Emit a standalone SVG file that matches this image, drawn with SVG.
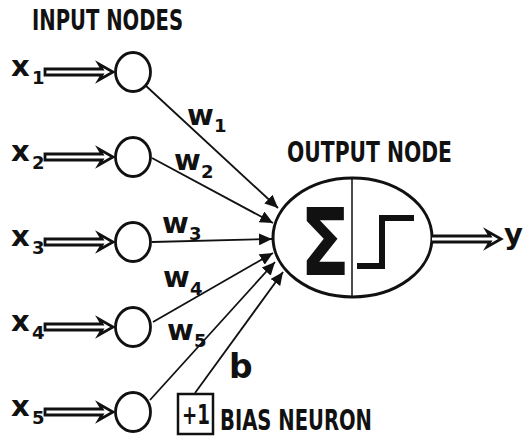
<svg xmlns="http://www.w3.org/2000/svg" width="525" height="436" viewBox="0 0 525 436">
<style>
text{font-family:"DejaVu Sans","Liberation Sans",sans-serif;font-weight:bold;fill:#111}
.big{font-size:29px}
.sub{font-size:18px}
.title{font-size:28px}
.in{fill:#fff;stroke:#111;stroke-width:2.8}
.dbl{fill:#fff;stroke:#111;stroke-width:2.8;stroke-linejoin:miter}
.con{stroke:#111;stroke-width:1.8;fill:none}
</style>
<defs>
<marker id="ah" markerUnits="userSpaceOnUse" markerWidth="14" markerHeight="12" refX="13" refY="6" orient="auto">
<path d="M0,0 L13,6 L0,12 Z" fill="#111"/>
</marker>
</defs>
<rect width="525" height="436" fill="#fff"/>
<text class="title" x="32" y="30" textLength="151" lengthAdjust="spacingAndGlyphs">INPUT NODES</text>
<text class="title" x="287" y="162" textLength="165" lengthAdjust="spacingAndGlyphs">OUTPUT NODE</text>

<g id="connectors">
<line class="con" x1="145" y1="85" x2="278" y2="208" marker-end="url(#ah)"/>
<line class="con" x1="152" y1="158" x2="273" y2="223" marker-end="url(#ah)"/>
<line class="con" x1="152" y1="242" x2="272" y2="239" marker-end="url(#ah)"/>
<line class="con" x1="153" y1="322" x2="273" y2="253" marker-end="url(#ah)"/>
<line class="con" x1="150" y1="400" x2="275" y2="262" marker-end="url(#ah)"/>
<line class="con" x1="195" y1="393" x2="283" y2="272" marker-end="url(#ah)"/>
</g>

<g id="input1">
<text class="big" x="11" y="76">x</text>
<text class="sub" x="32" y="84">1</text>
<path class="dbl" d="M45,69 H102 L99,64 L113,72 L99,80 L102,75 H45 Z"/>
<ellipse class="in" cx="133" cy="72" rx="17.5" ry="19.5"/>
</g>
<g id="input2">
<text class="big" x="11" y="161">x</text>
<text class="sub" x="32" y="169">2</text>
<path class="dbl" d="M45,154 H102 L99,149 L113,157 L99,165 L102,160 H45 Z"/>
<ellipse class="in" cx="133" cy="157" rx="17.5" ry="19.5"/>
</g>
<g id="input3">
<text class="big" x="11" y="246">x</text>
<text class="sub" x="32" y="254">3</text>
<path class="dbl" d="M45,239 H102 L99,234 L113,242 L99,250 L102,245 H45 Z"/>
<ellipse class="in" cx="133" cy="242" rx="17.5" ry="19.5"/>
</g>
<g id="input4">
<text class="big" x="11" y="331">x</text>
<text class="sub" x="32" y="339">4</text>
<path class="dbl" d="M45,324 H102 L99,319 L113,327 L99,335 L102,330 H45 Z"/>
<ellipse class="in" cx="133" cy="327" rx="17.5" ry="19.5"/>
</g>
<g id="input5">
<text class="big" x="11" y="416">x</text>
<text class="sub" x="32" y="424">5</text>
<path class="dbl" d="M45,409 H102 L99,404 L113,412 L99,420 L102,415 H45 Z"/>
<ellipse class="in" cx="133" cy="412" rx="17.5" ry="19.5"/>
</g>

<g id="weights">
<text class="big" x="187" y="125">w</text>
<text class="sub" x="214" y="132">1</text>
<text class="big" x="174" y="170">w</text>
<text class="sub" x="201" y="178">2</text>
<text class="big" x="162" y="233">w</text>
<text class="sub" x="189" y="240">3</text>
<text class="big" x="163" y="287">w</text>
<text class="sub" x="190" y="295">4</text>
<text class="big" x="167" y="340">w</text>
<text class="sub" x="194" y="347">5</text>
<text x="229" y="378" style="font-size:33px">b</text>
</g>

<g id="output">
<ellipse cx="352.5" cy="237.5" rx="79.5" ry="59.5" fill="#fff" stroke="#111" stroke-width="3"/>
<line x1="352" y1="178" x2="352" y2="297" stroke="#111" stroke-width="1.5"/>
<text x="300" y="275" style="font-size:92px" textLength="50" lengthAdjust="spacingAndGlyphs">Σ</text>
<path d="M357,266 H382 V218 H414" fill="none" stroke="#111" stroke-width="6"/>
<path class="dbl" d="M432,236 H490 L487,231 L501,239 L487,247 L490,242 H432"/>
<text class="big" x="504" y="244">y</text>
</g>

<g id="bias">
<rect x="178" y="394" width="35" height="40" fill="#fff" stroke="#111" stroke-width="2.5"/>
<text x="182" y="424" style="font-size:27px" textLength="28" lengthAdjust="spacingAndGlyphs">+1</text>
<text class="title" x="220" y="430" textLength="152" lengthAdjust="spacingAndGlyphs">BIAS NEURON</text>
</g>
</svg>
